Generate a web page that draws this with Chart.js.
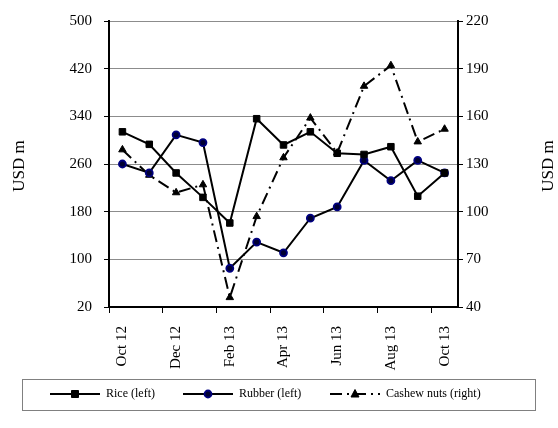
<!DOCTYPE html>
<html>
<head>
<meta charset="utf-8">
<script src="https://cdn.jsdelivr.net/npm/chart.js@4/dist/chart.umd.min.js"></script>
<style>
    html, body { margin: 0; padding: 0; background: #fff; }
    #chart { display: block; }
</style>
</head>
<body>
<canvas id="chart" width="558" height="428"></canvas>
<script>
const months = ['Oct 12', 'Nov 12', 'Dec 12', 'Jan 13', 'Feb 13', 'Mar 13', 'Apr 13',
    'May 13', 'Jun 13', 'Jul 13', 'Aug 13', 'Sep 13', 'Oct 13'];
const rice = [314, 293, 245, 204, 161, 336, 292, 314, 278, 276, 289, 206, 245];
const rubber = [260, 245, 309, 296, 85, 129, 111, 169, 188, 266, 232, 266, 245];
const cashew = [139, 123, 112, 117, 46, 97, 134, 159, 137, 179, 192, 144, 152];
const leftTicks = [20, 100, 180, 260, 340, 420, 500];
const rightTicks = [40, 70, 100, 130, 160, 190, 220];
const seriesNames = ['Rice (left)', 'Rubber (left)', 'Cashew nuts (right)'];
const axisTitle = 'USD m';

const serif = "'Liberation Serif', 'Times New Roman', serif";
Chart.defaults.font.family = serif;
Chart.defaults.font.size = 15;
Chart.defaults.color = '#000';

// both axis titles read bottom-to-top, like the original
const axisTitles = {
    id: 'axisTitles',
    afterDraw(chart) {
        const ctx = chart.ctx;
        ctx.save();
        ctx.fillStyle = '#000';
        ctx.font = '17px ' + serif;
        ctx.textAlign = 'center';
        ctx.textBaseline = 'middle';
        [19.5, 549].forEach(x => {
            ctx.save();
            ctx.translate(x, 166);
            ctx.rotate(-Math.PI / 2);
            ctx.fillText(axisTitle, 0, 0);
            ctx.restore();
        });
        ctx.restore();
    }
};

// legend with a line + marker sample, like the spreadsheet one
const lineLegend = {
    id: 'lineLegend',
    afterDraw(chart) {
        const ctx = chart.ctx;
        const starts = [50, 183, 330];
        const y = 394;
        ctx.save();
        ctx.strokeStyle = '#808080';
        ctx.lineWidth = 1;
        ctx.strokeRect(22.5, 379.5, 513, 31);

        chart.data.datasets.forEach((ds, i) => {
            const x0 = starts[i];
            ctx.strokeStyle = '#000';
            ctx.lineWidth = 2;
            ctx.setLineDash(ds.borderDash || []);
            ctx.beginPath();
            ctx.moveTo(x0, y);
            ctx.lineTo(x0 + 50, y);
            ctx.stroke();
            ctx.setLineDash([]);
            drawMarker(ctx, ds, x0 + 25, y);

            ctx.fillStyle = '#000';
            ctx.font = '12px ' + serif;
            ctx.textBaseline = 'middle';
            ctx.textAlign = 'left';
            ctx.fillText(ds.label, x0 + 56, y);
        });
        ctx.restore();
    }
};

function drawMarker(ctx, ds, x, y) {
    ctx.fillStyle = ds.pointBackgroundColor;
    ctx.strokeStyle = ds.pointBorderColor;
    ctx.lineWidth = ds.pointBorderWidth;
    ctx.beginPath();
    if (ds.pointStyle === 'rect') {
        ctx.rect(x - 3.5, y - 3.5, 7, 7);
    } else if (ds.pointStyle === 'circle') {
        ctx.arc(x, y, 3.5, 0, Math.PI * 2);
    } else {
        ctx.moveTo(x, y - 4.5);
        ctx.lineTo(x + 4, y + 3);
        ctx.lineTo(x - 4, y + 3);
        ctx.closePath();
    }
    ctx.fill();
    ctx.stroke();
}

const config = {
    type: 'line',
    data: {
        labels: months,
        datasets: [
            {
                label: seriesNames[0],
                data: rice,
                yAxisID: 'y',
                borderColor: '#000',
                borderWidth: 2,
                pointStyle: 'rect',
                pointRadius: 4.6,
                pointBackgroundColor: '#000',
                pointBorderColor: '#000',
                pointBorderWidth: 1,
                tension: 0
            },
            {
                label: seriesNames[1],
                data: rubber,
                yAxisID: 'y',
                borderColor: '#000',
                borderWidth: 2,
                pointStyle: 'circle',
                pointRadius: 3.5,
                pointBackgroundColor: '#000033',
                pointBorderColor: '#000080',
                pointBorderWidth: 1.8,
                tension: 0
            },
            {
                label: seriesNames[2],
                data: cashew,
                yAxisID: 'y1',
                borderColor: '#000',
                borderWidth: 2,
                borderDash: [12, 5, 2, 5],
                pointStyle: 'triangle',
                pointRadius: 4.3,
                pointBackgroundColor: '#000',
                pointBorderColor: '#000',
                pointBorderWidth: 1,
                tension: 0
            }
        ]
    },
    options: {
        responsive: false,
        devicePixelRatio: 1,
        animation: false,
        layout: { padding: { top: 11, left: 0, right: 0, bottom: 0 } },
        plugins: {
            legend: { display: false },
            tooltip: { enabled: false }
        },
        scales: {
            x: {
                offset: true,
                grid: {
                    offset: true,
                    drawOnChartArea: false,
                    drawTicks: true,
                    tickLength: 6,
                    tickColor: (c) => (c.index % 2 === 0 ? '#000' : 'rgba(0,0,0,0)')
                },
                border: { color: '#000', width: 2 },
                ticks: {
                    autoSkip: false,
                    minRotation: 90,
                    maxRotation: 90,
                    padding: 13,
                    callback: function(value, index) {
                        return index % 2 === 0 ? months[index] : '';
                    }
                },
                afterFit: (scale) => { scale.height = 121; }
            },
            y: {
                position: 'left',
                min: leftTicks[0],
                max: leftTicks[leftTicks.length - 1],
                afterBuildTicks: (scale) => { scale.ticks = leftTicks.map(v => ({ value: v })); },
                grid: {
                    color: '#8c8c8c',
                    lineWidth: 1,
                    tickLength: 5,
                    tickColor: '#000'
                },
                border: { color: '#000', width: 2 },
                ticks: { padding: 12 },
                afterFit: (scale) => { scale.width = 109; }
            },
            y1: {
                position: 'right',
                min: rightTicks[0],
                max: rightTicks[rightTicks.length - 1],
                afterBuildTicks: (scale) => { scale.ticks = rightTicks.map(v => ({ value: v })); },
                grid: {
                    drawOnChartArea: false,
                    tickLength: 5,
                    tickColor: '#000'
                },
                border: { color: '#000', width: 2 },
                ticks: { padding: 3 },
                afterFit: (scale) => { scale.width = 100; }
            }
        }
    },
    plugins: [axisTitles, lineLegend]
};

const chart = new Chart(document.getElementById('chart'), config);
</script>
</body>
</html>
